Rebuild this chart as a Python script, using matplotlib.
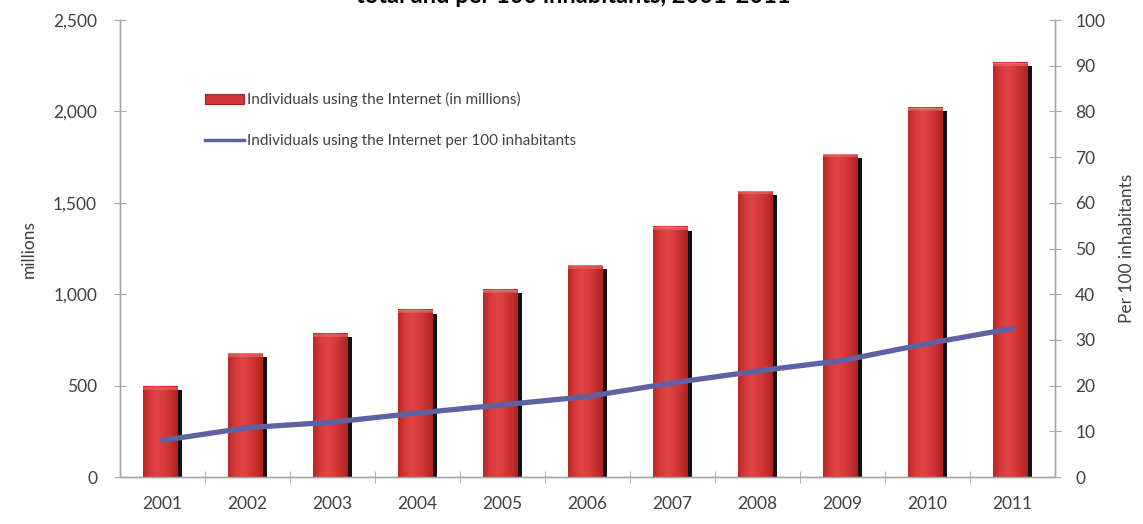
import matplotlib
matplotlib.use("Agg")
import matplotlib.pyplot as plt
import numpy as np
from matplotlib.patches import Rectangle
from matplotlib.lines import Line2D
from matplotlib.colors import LinearSegmentedColormap

plt.rcParams['font.family'] = ['Lato', 'DejaVu Sans']

years = ['2001', '2002', '2003', '2004', '2005', '2006', '2007', '2008', '2009', '2010', '2011']
users_millions = [495, 677, 785, 914, 1024, 1158, 1368, 1564, 1766, 2020, 2267]
per_100 = [8.0, 10.8, 12.0, 14.0, 15.8, 17.6, 20.6, 23.2, 25.5, 29.2, 32.5]
title_text = 'total and per 100 inhabitants, 2001-2011'
legend_bar = 'Individuals using the Internet (in millions)'
legend_line = 'Individuals using the Internet per 100 inhabitants'

W, H = 1143, 524
fig = plt.figure(figsize=(W / 100, H / 100), dpi=100)
ax = fig.add_axes([120 / W, 1 - 477 / H, (1055 - 120) / W, (477 - 20) / H])
ax2 = ax.twinx()

axis_col = '#a6a6a6'
text_col = '#404040'

x = np.arange(len(years))
bw = 0.41
cmap = LinearSegmentedColormap.from_list('bar', ['#b82828', '#d63a3a', '#df4444', '#d83c3c', '#c63030', '#b02222'])
grad = np.linspace(0, 1, 64).reshape(1, -1)

for xi, v in zip(x, users_millions):
    cx = xi - 0.02
    ax.add_patch(Rectangle((cx + bw / 2 - 0.005, 0), 0.05, v - 20, facecolor='#111111', edgecolor='none', zorder=2))
    ax.imshow(grad, cmap=cmap, aspect='auto', extent=(cx - bw / 2, cx + bw / 2, 0, v), zorder=3, interpolation='bilinear')
    ax.add_patch(Rectangle((cx - bw / 2, v - 18), bw, 18, facecolor='#e86a6a', edgecolor='none', alpha=0.6, zorder=4))
    ax.add_patch(Rectangle((cx - bw / 2, v - 5), bw, 5, facecolor='#f08a8a', edgecolor='none', alpha=0.6, zorder=4))

ax.set_xlim(-0.5, len(years) - 0.5)
ax.set_ylim(0, 2500)

ax2.plot(x, per_100, color='#5f62a2', lw=3.8, solid_capstyle='round', zorder=5)
ax2.set_ylim(0, 100)

for a in (ax, ax2):
    a.spines['top'].set_visible(False)
    for s in ('left', 'right', 'bottom'):
        a.spines[s].set_color(axis_col)
        a.spines[s].set_linewidth(1.0)

ax.set_yticks(np.arange(0, 2501, 500))
ax.set_yticklabels([f'{int(v):,}' for v in np.arange(0, 2501, 500)])
ax2.set_yticks(np.arange(0, 101, 10))
ax.tick_params(axis='y', direction='inout', length=9, color=axis_col, labelsize=12.5, labelcolor=text_col, pad=12)
ax2.tick_params(axis='y', direction='inout', length=9, color=axis_col, labelsize=12.5, labelcolor=text_col, pad=10)

ax.set_xticks(x)
ax.set_xticklabels(years)
ax.set_xticks(np.arange(0.5, len(years) - 0.5, 1), minor=True)
ax.tick_params(axis='x', which='major', length=0, labelsize=12.5, labelcolor=text_col, pad=14)
ax.tick_params(axis='x', which='minor', direction='inout', length=9, color=axis_col)

ax.set_ylabel('millions', fontsize=12.5, color=text_col, labelpad=12)
ax2.set_ylabel('Per 100 inhabitants', fontsize=12.5, color=text_col, labelpad=10)

ax.set_zorder(1)
ax2.set_zorder(2)
ax2.patch.set_visible(False)

handles = [Rectangle((0, 0), 1, 1, facecolor='#d33636', edgecolor='#a81d1d', lw=0.8),
           Line2D([0], [0], color='#5f62a2', lw=2.5)]
ax2.legend(handles, [legend_bar, legend_line], loc='upper left', bbox_to_anchor=(0.084, 0.855),
           frameon=False, fontsize=11, handlelength=2.6, handleheight=0.6, handletextpad=0.15,
           labelspacing=1.75, labelcolor=text_col, borderaxespad=0)

fig.text(0.502, 1 - 3 / H, title_text, ha='center', va='baseline', fontsize=17, fontweight='bold', color='black')

fig.savefig('out.png', dpi=100)
